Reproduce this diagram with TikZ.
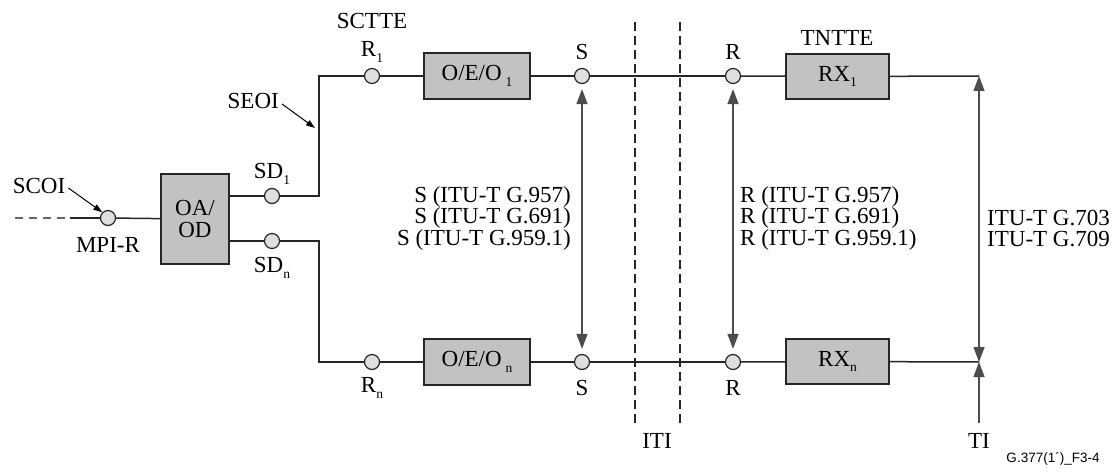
\documentclass[tikz,border=0pt]{standalone}
\usepackage{fontspec}
\setmainfont{Liberation Serif}
\newfontfamily\smallsans{Liberation Sans}
\usetikzlibrary{arrows.meta}
\newcommand\mysub[1]{\raisebox{-0.5ex}{\fontsize{13.5}{13.5}\selectfont #1}}
\begin{document}
\begin{tikzpicture}[x=1pt,y=-1pt,
  wire/.style={line width=1.5pt, draw=black!85},
  pnt/.style={circle, draw=black!85, fill=gray!25, minimum size=15pt, inner sep=0pt, line width=1.2pt},
  blk/.style={draw=black!85, fill=gray!48, line width=1.6pt, inner sep=0pt, font=\fontsize{23}{23}\selectfont},
  lbl/.style={font=\fontsize{23}{23}\selectfont, inner sep=0pt},
  refarrow/.style={line width=1.3pt, draw=black!70, {Triangle[width=11pt,length=15pt]}-{Triangle[width=11pt,length=15pt]}},
  itilane/.style={line width=1.1pt, draw=black!85, dash pattern=on 9pt off 5pt}
]
\useasboundingbox (0,0) rectangle (1118,473);

% nodes
\node[pnt] (mpi) at (108,218) {};
\node[blk, minimum width=68pt, minimum height=90pt, align=center, font=\fontsize{23}{22.5}\selectfont] (oaod) at (195,219) {OA/\\OD};
\node[pnt] (sd1) at (272,196) {};
\node[pnt] (sdn) at (272,241) {};
\coordinate (jt) at (319,76);
\coordinate (jb) at (319,362);
\node[pnt] (r1) at (372,76) {};
\node[pnt] (rn) at (372,362) {};
\node[blk, minimum width=106pt, minimum height=46pt] (oeo1) at (477,76) {O/E/O\,\mysub{1}};
\node[blk, minimum width=106pt, minimum height=46pt] (oeon) at (477,362) {O/E/O\,\mysub{n}};
\node[pnt] (s1) at (582,76) {};
\node[pnt] (sn) at (582,362) {};
\node[pnt] (rr1) at (733,76) {};
\node[pnt] (rrn) at (733,362) {};
\node[blk, minimum width=103pt, minimum height=45pt] (rx1) at (837.5,76.5) {RX\mysub{1}};
\node[blk, minimum width=103pt, minimum height=45pt] (rxn) at (837.5,361.5) {RX\mysub{n}};
\coordinate (e1) at (979,76);
\coordinate (en) at (979,362);
\coordinate (ti) at (979,423);
\coordinate (dstart) at (15,218);
\coordinate (dend) at (70,218);

% wires
\draw[wire, dash pattern=on 8pt off 6pt, draw=black!60] (dstart) -- (dend);
\draw[wire] (dend) -- (mpi);
\draw[wire] (mpi) -- (oaod);
\draw[wire] (oaod.east |- sd1) -- (sd1);
\draw[wire] (oaod.east |- sdn) -- (sdn);
\draw[wire] (sd1) -| (jt) -- (r1);
\draw[wire] (sdn) -| (jb) -- (rn);
\draw[wire] (r1) -- (oeo1);
\draw[wire] (rn) -- (oeon);
\draw[wire] (oeo1) -- (s1);
\draw[wire] (oeon) -- (sn);
\draw[wire] (s1) -- (rr1);
\draw[wire] (sn) -- (rrn);
\draw[wire] (rr1) -- (rx1);
\draw[wire] (rrn) -- (rxn);
\draw[wire] (rx1) -- (e1);
\draw[wire] (rxn) -- (en);

% ITI lanes
\coordinate (it1a) at (635,22); \coordinate (it1b) at (635,423);
\coordinate (it2a) at (680,22); \coordinate (it2b) at (680,423);
\draw[itilane] (it1a) -- (it1b);
\draw[itilane] (it2a) -- (it2b);
\node[lbl] (iti) at (657,441) {ITI};

% reference arrows
\draw[refarrow, shorten <=5pt, shorten >=5pt] (s1) -- (sn);
\draw[refarrow, shorten <=5pt, shorten >=5pt] (rr1) -- (rrn);
\draw[refarrow] (en) -- (e1);
\draw[line width=1.3pt, draw=black!70, -{Triangle[width=11pt,length=15pt]}] (ti) -- (en);

% labels
\node[lbl] (scoi) at (39,186) {SCOI};
\draw[line width=1pt, -{Triangle[width=6pt,length=9pt]}] (scoi.east) ++(3,2) coordinate (sc0) -- (mpi.north west);
\node[lbl] (mpil) at (108,245) {MPI-R};
\node[lbl] (sd1l) at (272,174) {SD\mysub{1}};
\node[lbl] (sdnl) at (272,268) {SD\mysub{n}};
\node[lbl, anchor=east] (seoi) at (279,101) {SEOI};
\coordinate (seoitip) at (315,128);
\draw[line width=1pt, -{Triangle[width=6pt,length=9pt]}] ([xshift=3pt,yshift=-3pt]seoi.east) -- (seoitip);
\node[lbl] (sctte) at (372,21) {SCTTE};
\node[lbl] (r1l) at (372,52) {R\mysub{1}};
\node[lbl] (rnl) at (372,388) {R\mysub{n}};
\node[lbl] (s1l) at (582,52) {S};
\node[lbl] (snl) at (582,388) {S};
\node[lbl] (rr1l) at (733,52) {R};
\node[lbl] (rrnl) at (733,388) {R};
\node[lbl] (tntte) at (837,38) {TNTTE};
\node[lbl, anchor=east, align=right, font=\fontsize{23}{21.5}\selectfont] (stext) at (571,218) {S (ITU-T G.957)\\S (ITU-T G.691)\\S (ITU-T G.959.1)};
\node[lbl, anchor=west, align=left, font=\fontsize{23}{21.5}\selectfont] (rtext) at (740,218) {R (ITU-T G.957)\\R (ITU-T G.691)\\R (ITU-T G.959.1)};
\node[lbl, anchor=west, align=left, font=\fontsize{23}{21}\selectfont] (gtext) at (987,229) {ITU-T G.703\\ITU-T G.709};
\node[lbl] (til) at (979,441) {TI};
\node[inner sep=0pt, font=\smallsans\fontsize{13.5}{13.5}\selectfont] (fig) at (1053,459) {G.377(1´)\_F3-4};
\end{tikzpicture}
\end{document}
